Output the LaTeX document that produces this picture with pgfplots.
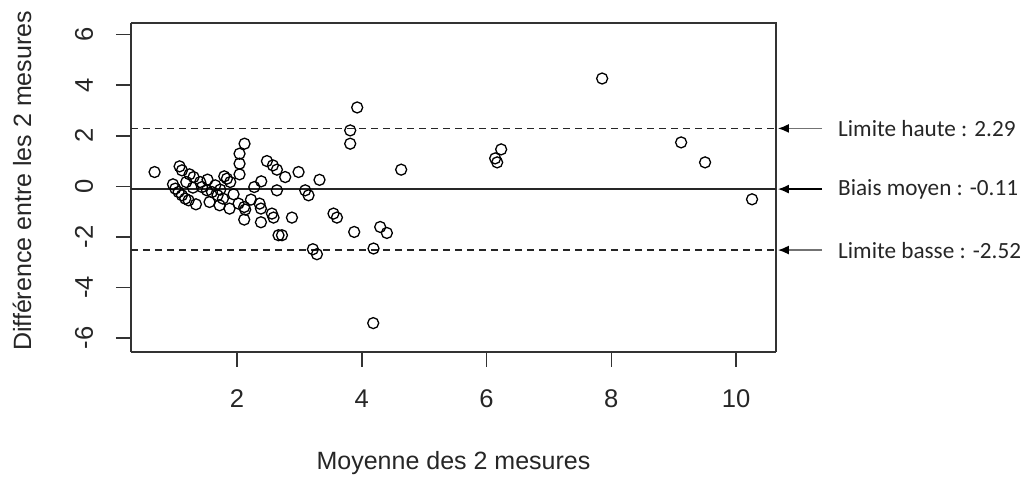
\documentclass[border=0pt]{standalone}
\usepackage{pgfplots}
\pgfplotsset{compat=1.18}
\usepackage{fontspec}
\setmainfont{Liberation Sans}
\newfontfamily\calibri{Carlito}
\usetikzlibrary{arrows.meta}
\begin{document}
\begin{tikzpicture}
\useasboundingbox (0,0) rectangle (514pt,239pt);
\begin{axis}[
  at={(65.5pt,63.15pt)}, anchor=south west,
  scale only axis, width=322.5pt, height=164.5pt,
  xmin=0.30, xmax=10.64, ymin=-6.54, ymax=6.47,
  xtick={2,4,6,8,10}, ytick={-6,-4,-2,0,2,4,6},
  tick align=outside, major tick length=7.5pt,
  tick style={line width=0.8pt, black!80},
  axis line style={line width=0.8pt, black!80},
  axis x line*=bottom, axis y line*=left,
  x axis line style={-}, y axis line style={-},
  clip=false,
  /pgf/number format/assume math mode=true,
  ticklabel style={font=\fontsize{12.8}{14}\selectfont, text=black!85},
  xticklabel style={anchor=center, yshift=-16pt},
  yticklabel style={anchor=center, xshift=-16pt, rotate=90},
  xlabel={Moyenne des 2 mesures},
  ylabel={Différence entre les 2 mesures},
  label style={font=\fontsize{12.5}{14}\selectfont, text=black!85},
  xlabel style={at={(axis description cs:0.5,-0.338)}, anchor=center},
  ylabel style={at={(axis description cs:-0.169,0.519)}, anchor=center},
]
% full box
\addplot[black!80, line width=0.8pt] coordinates {(0.30,6.47) (10.64,6.47) (10.64,-6.54)};
% lines
\addplot[black!85, line width=0.9pt] coordinates {(0.30,-0.11) (10.64,-0.11)};
\addplot[black!85, line width=0.9pt, dash pattern=on 3.5pt off 2.5pt] coordinates {(0.30,2.29) (10.64,2.29)};
\addplot[black!85, line width=0.9pt, dash pattern=on 3.5pt off 2.5pt] coordinates {(0.30,-2.52) (10.64,-2.52)};
% points
\addplot[only marks, mark=o, mark size=2.75pt, black, mark options={line width=0.65pt}] table {
x y
0.678 0.565
1.079 0.790
1.117 0.632
1.239 0.474
1.303 0.367
1.186 0.170
1.410 0.170
1.527 0.265
1.795 0.395
1.838 0.304
1.891 0.170
0.973 0.079
1.010 -0.091
1.063 -0.225
1.117 -0.355
1.170 -0.486
1.223 -0.553
1.341 -0.711
1.293 -0.051
1.438 -0.028
1.518 -0.158
1.598 -0.225
1.651 0.039
1.688 -0.355
1.731 -0.130
1.774 -0.486
1.559 -0.620
1.720 -0.750
1.880 -0.881
1.944 -0.316
2.024 -0.683
2.115 -0.817
2.131 -0.920
2.115 -1.315
2.223 -0.525
2.276 -0.028
2.388 0.197
2.120 1.686
2.040 1.291
2.040 0.896
2.040 0.474
2.479 0.999
2.575 0.829
2.639 0.659
2.772 0.367
2.639 -0.158
2.986 0.565
3.322 0.257
3.093 -0.158
3.146 -0.355
2.361 -0.683
2.383 -0.880
2.383 -1.421
2.559 -1.078
2.585 -1.236
2.880 -1.236
2.665 -1.934
2.720 -1.934
3.546 -1.078
3.601 -1.236
3.216 -2.487
3.280 -2.685
3.878 -1.804
4.295 -1.607
4.402 -1.844
4.188 -2.460
4.183 -5.409
3.814 2.211
3.814 1.686
3.926 3.119
4.631 0.659
6.138 1.105
6.170 0.947
6.234 1.461
7.853 4.264
9.119 1.737
9.503 0.947
10.256 -0.513
};
% annotations
\draw[black!55, line width=0.8pt, -{Latex[black,length=5.5pt,width=4.5pt]}] (axis cs:11.38,2.29) -- (axis cs:10.67,2.29);
\draw[black, line width=0.8pt, -{Latex[black,length=5.5pt,width=4.5pt]}] (axis cs:11.38,-0.11) -- (axis cs:10.67,-0.11);
\draw[black!55, line width=0.8pt, -{Latex[black,length=5.5pt,width=4.5pt]}] (axis cs:11.38,-2.52) -- (axis cs:10.67,-2.52);
\node[anchor=west, inner sep=0pt, font=\calibri\fontsize{11.6}{14}\selectfont, text=black!85] at (axis cs:11.63,2.29) {Limite haute : 2.29};
\node[anchor=west, inner sep=0pt, font=\calibri\fontsize{11.6}{14}\selectfont, text=black!85] at (axis cs:11.63,-0.11) {Biais moyen : -0.11};
\node[anchor=west, inner sep=0pt, font=\calibri\fontsize{11.6}{14}\selectfont, text=black!85] at (axis cs:11.63,-2.52) {Limite basse : -2.52};
\end{axis}
\end{tikzpicture}
\end{document}
